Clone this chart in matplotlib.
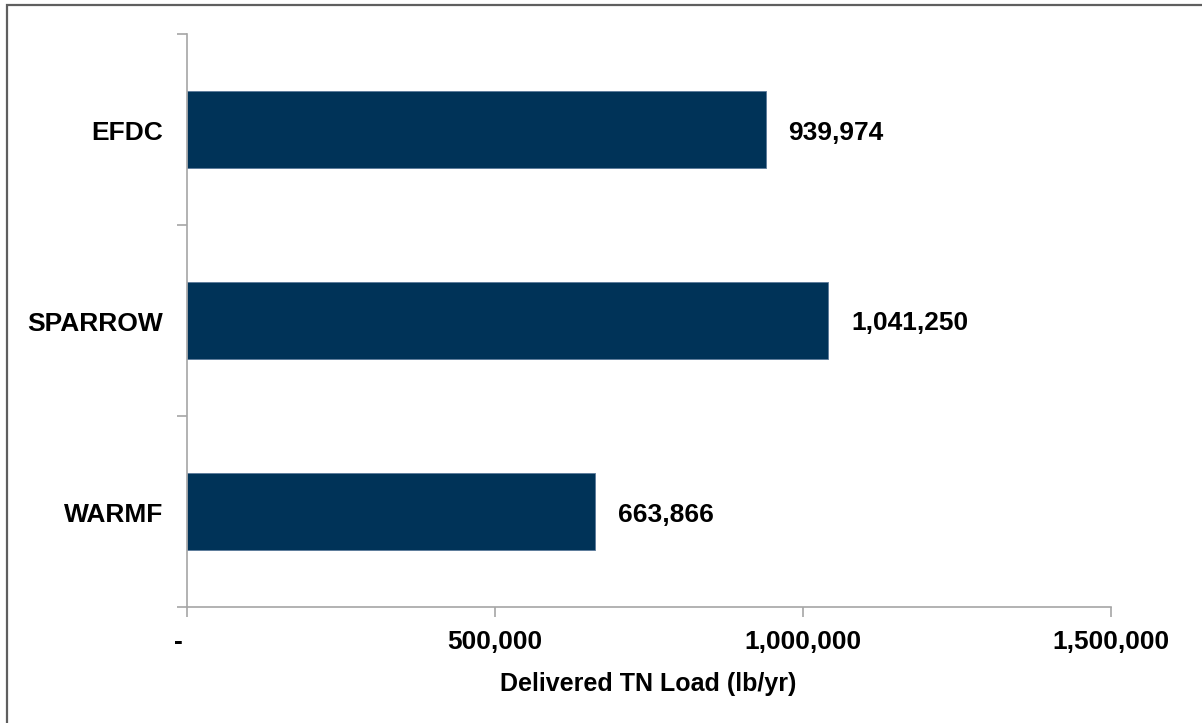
import matplotlib
matplotlib.use("Agg")
import matplotlib.pyplot as plt
from matplotlib.patches import Rectangle
from matplotlib.ticker import FixedLocator
import matplotlib.transforms as mtransforms

categories = ["EFDC", "SPARROW", "WARMF"]
values = [939974, 1041250, 663866]
xticks = [0, 500000, 1000000, 1500000]
xtick_labels = ["-", "500,000", "1,000,000", "1,500,000"]
xlabel = "Delivered TN Load (lb/yr)"

plt.rcParams['font.family'] = ['Liberation Sans', 'DejaVu Sans']
FS = 19
bar_color = "#003358"
axis_color = "#a6a6a6"

fig = plt.figure(figsize=(12.02, 7.23), dpi=100)
# outer border (top & left visible)
fig.patches.append(Rectangle((6.5/1202, -0.1), 1.2, (723-5.5)/723 + 0.1,
                             transform=fig.transFigure, fill=False,
                             edgecolor="#5f5f5f", linewidth=1.6))

ax = fig.add_axes([186.5/1202, 116/723, 924/1202, 573/723])
y = list(range(len(categories)))
ax.barh(y, values, height=0.40, color=bar_color, edgecolor="#5a7a9a", linewidth=0.6)
ax.set_xlim(0, 1500000)
ax.set_ylim(len(categories) - 0.5, -0.5)

for yi, v in zip(y, values):
    ax.annotate(f"{v:,}", (v, yi), xytext=(23, -3), textcoords="offset pixels",
                ha="left", va="center", fontsize=FS, fontweight="bold")

for s in ["top", "right"]:
    ax.spines[s].set_visible(False)
for s in ["left", "bottom"]:
    ax.spines[s].set_color(axis_color)
    ax.spines[s].set_linewidth(1.2)

ax.set_xticks(xticks)
ax.set_xticklabels(xtick_labels, fontsize=FS, fontweight="bold")
ax.tick_params(axis="x", direction="out", length=7, width=1.2, color=axis_color, pad=9.5)

ax.yaxis.set_major_locator(FixedLocator(y))
ax.set_yticklabels(categories, fontsize=FS, fontweight="bold")
ax.tick_params(axis="y", which="major", length=0, pad=17)
ax.yaxis.set_minor_locator(FixedLocator([i - 0.5 for i in range(len(categories) + 1)]))
ax.tick_params(axis="y", which="minor", direction="out", length=7, width=1.2, color=axis_color)

# shift the "-" label slightly left (accounting format)
lbl0 = ax.get_xticklabels()[0]
lbl0.set_transform(lbl0.get_transform() + mtransforms.Affine2D().translate(-8, 0))

for lbl in ax.get_yticklabels():
    lbl.set_transform(lbl.get_transform() + mtransforms.Affine2D().translate(0, -1))

ax.set_xlabel(xlabel, fontsize=FS - 1, fontweight="bold", labelpad=13)

fig.savefig("out.png", dpi=100)
